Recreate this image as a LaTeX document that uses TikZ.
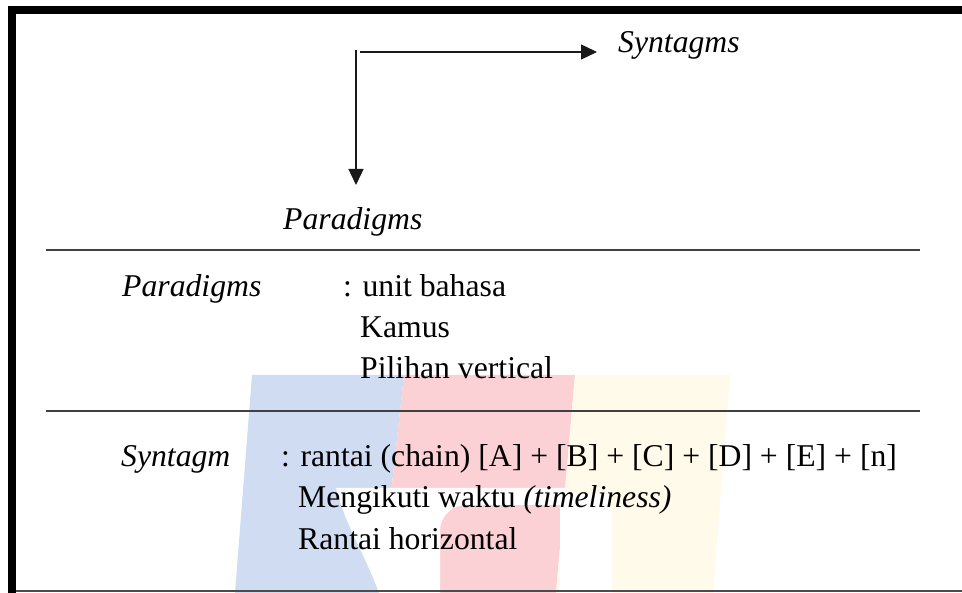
\documentclass[tikz,border=0pt]{standalone}
\usepackage{fontspec}
\setmainfont{Liberation Serif}
\usetikzlibrary{arrows.meta}
\definecolor{wmblue}{RGB}{207,220,241}
\definecolor{wmred}{RGB}{251,209,213}
\definecolor{wmyellow}{RGB}{255,250,233}
\definecolor{rulegray}{RGB}{64,64,64}
\tikzset{
  txt/.style={anchor=base west, inner sep=0pt, font=\fontsize{31.7pt}{40pt}\selectfont},
  itxt/.style={txt, font=\fontsize{31.7pt}{40pt}\selectfont\itshape},
  axis/.style={line width=1.4pt, draw=black!90, -{Triangle[length=16pt,width=15pt]}},
  rule/.style={line width=1.5pt, draw=rulegray},
}
\begin{document}
\begin{tikzpicture}[x=1pt,y=-1pt]
\useasboundingbox (0,0) rectangle (962,593);
\fill[white] (0,0) rectangle (962,593);
% watermark
\fill[wmblue] (252,375) -- (404,375) -- (380,593) -- (235,593) -- cycle;
\fill[wmred] (404,375) -- (575,375) -- (556,593) -- (380,593) -- cycle;
\fill[wmyellow] (575,375) -- (730,375) -- (713,593) -- (556,593) -- cycle;
\fill[white] (336,488) -- (566,488) -- (566,493) to[out=0,in=180] (612,493)
  -- (612,593) -- (560,593) -- (560,505)
  -- (466,505) to[out=180,in=90] (440,531) -- (440,593) -- (379,593)
  to[out=110,in=-75] cycle;
% frame
\fill[black] (8,6) rectangle (962,14);
\fill[black] (8,6) rectangle (16,593);
\draw[line width=1.2pt, draw=black!70] (16,591) -- (962,591);
% rules
\coordinate (r1a) at (46,250); \coordinate (r1b) at (920,250);
\coordinate (r2a) at (46,411); \coordinate (r2b) at (920,411);
\draw[rule] (r1a) -- (r1b);
\draw[rule] (r2a) -- (r2b);
% axes
\coordinate (vstart) at (356,50);
\coordinate (vend) at (356,185);
\coordinate (hstart) at (360,52);
\coordinate (hend) at (597,52);
\draw[axis] (vstart) -- (vend);
\draw[axis] (hstart) -- (hend);
% texts
\node[itxt] (syn) at (618,53) {Syntagms};
\node[itxt] (par) at (283,230) {Paradigms};
\node[itxt] (parlbl) at (122,297) {Paradigms};
\node[txt] (p1) at (343,297) {: unit bahasa};
\node[txt] (p2) at (360,338) {Kamus};
\node[txt] (p3) at (360,379) {Pilihan vertical};
\node[itxt] (synlbl) at (121,467) {Syntagm};
\node[txt] (s1) at (281,467) {: rantai (chain) [A] + [B] + [C] + [D] + [E] + [n]};
\node[txt] (s2) at (298,508) {Mengikuti waktu \textit{(timeliness)}};
\node[txt] (s3) at (298,550) {Rantai horizontal};
\end{tikzpicture}
\end{document}
